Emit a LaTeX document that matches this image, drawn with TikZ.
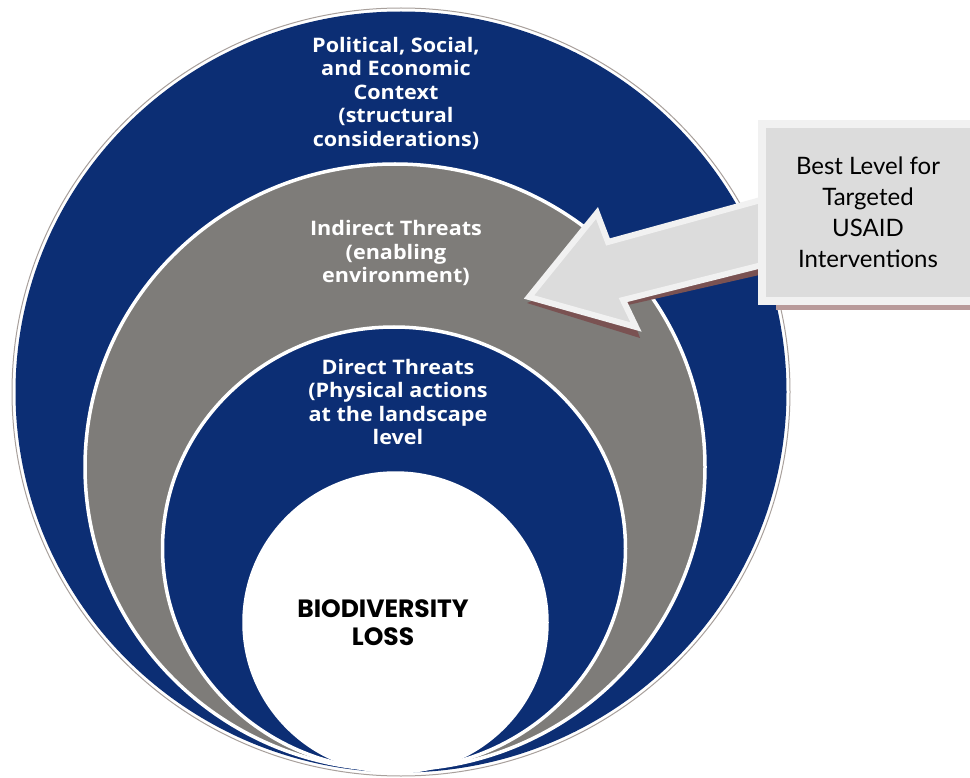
\documentclass[tikz,border=0pt]{standalone}
\usepackage{fontspec}
\setmainfont{Lato}
\newfontfamily\ringfont[FakeStretch=1.08]{Open Sans}
\newfontfamily\geofont{Poppins}
\definecolor{ringblue}{HTML}{0C2E74}
\definecolor{ringgray}{HTML}{7E7C79}
\definecolor{rimline}{HTML}{A8A09C}
\definecolor{callfill}{HTML}{DCDCDC}
\definecolor{callrim}{HTML}{F1F1F1}
\definecolor{shadowred}{HTML}{7A5252}
\definecolor{boxshadow}{HTML}{B89A9A}
\tikzset{
  ringlabel/.style={text=white, align=center, font=\ringfont\bfseries\fontsize{20}{23.5}\selectfont},
  corelabel/.style={text=black, align=center, font=\geofont\bfseries\fontsize{25}{28}\selectfont},
  calltext/.style={text=black, align=center, font=\fontsize{24}{31}\selectfont},
  ringedge/.style={draw=white, line width=3.5pt}
}
\begin{document}
\begin{tikzpicture}[x=1pt,y=-1pt]
  \useasboundingbox (0,0) rectangle (970,778);
  \fill[white] (0,0) rectangle (970,778);

  % nested rings, all meeting near the bottom
  \filldraw[fill=white, draw=rimline, line width=1pt] (401,392) ellipse (389 and 384);
  \fill[ringblue] (401,392) ellipse (385.5 and 380.5);
  \filldraw[fill=ringgray, ringedge] (395,467) ellipse (310 and 303);
  \filldraw[fill=ringblue, ringedge] (394,548.5) ellipse (231.5 and 221.5);
  \filldraw[fill=white, ringedge] (395.5,622.5) ellipse (151.5 and 149.5);

  % ring labels
  \node[ringlabel] (context) at (396,93) {Political, Social,\\and Economic\\Context\\(structural\\considerations)};
  \node[ringlabel] (indirect) at (396,253) {Indirect Threats\\(enabling\\environment)};
  \node[ringlabel] (direct) at (398,402) {Direct Threats\\(Physical actions\\at the landscape\\level};
  \node[corelabel] (core) at (383,623) {BIODIVERSITY\\LOSS};

  % block arrow pointing into the indirect-threat ring
  \fill[shadowred] (527,303) -- (640,338) -- (628,305) -- (790,268) -- (790,200) -- cycle;
  \filldraw[fill=callfill, draw=callrim, line width=6pt, line join=miter, miter limit=10]
    (529,297) -- (597,213) -- (608,242) -- (790,192) -- (790,258) -- (623,300) -- (636,327) -- cycle;

  % callout box
  \fill[boxshadow] (776,304) rectangle (970,310);
  \fill[callrim] (758,120) rectangle (970,305);
  \fill[callfill] (766,128) rectangle (970,297);
  \node[calltext] (callout) at (868,212) {Best Level for\\Targeted\\USAID\\Interventions};
\end{tikzpicture}
\end{document}
